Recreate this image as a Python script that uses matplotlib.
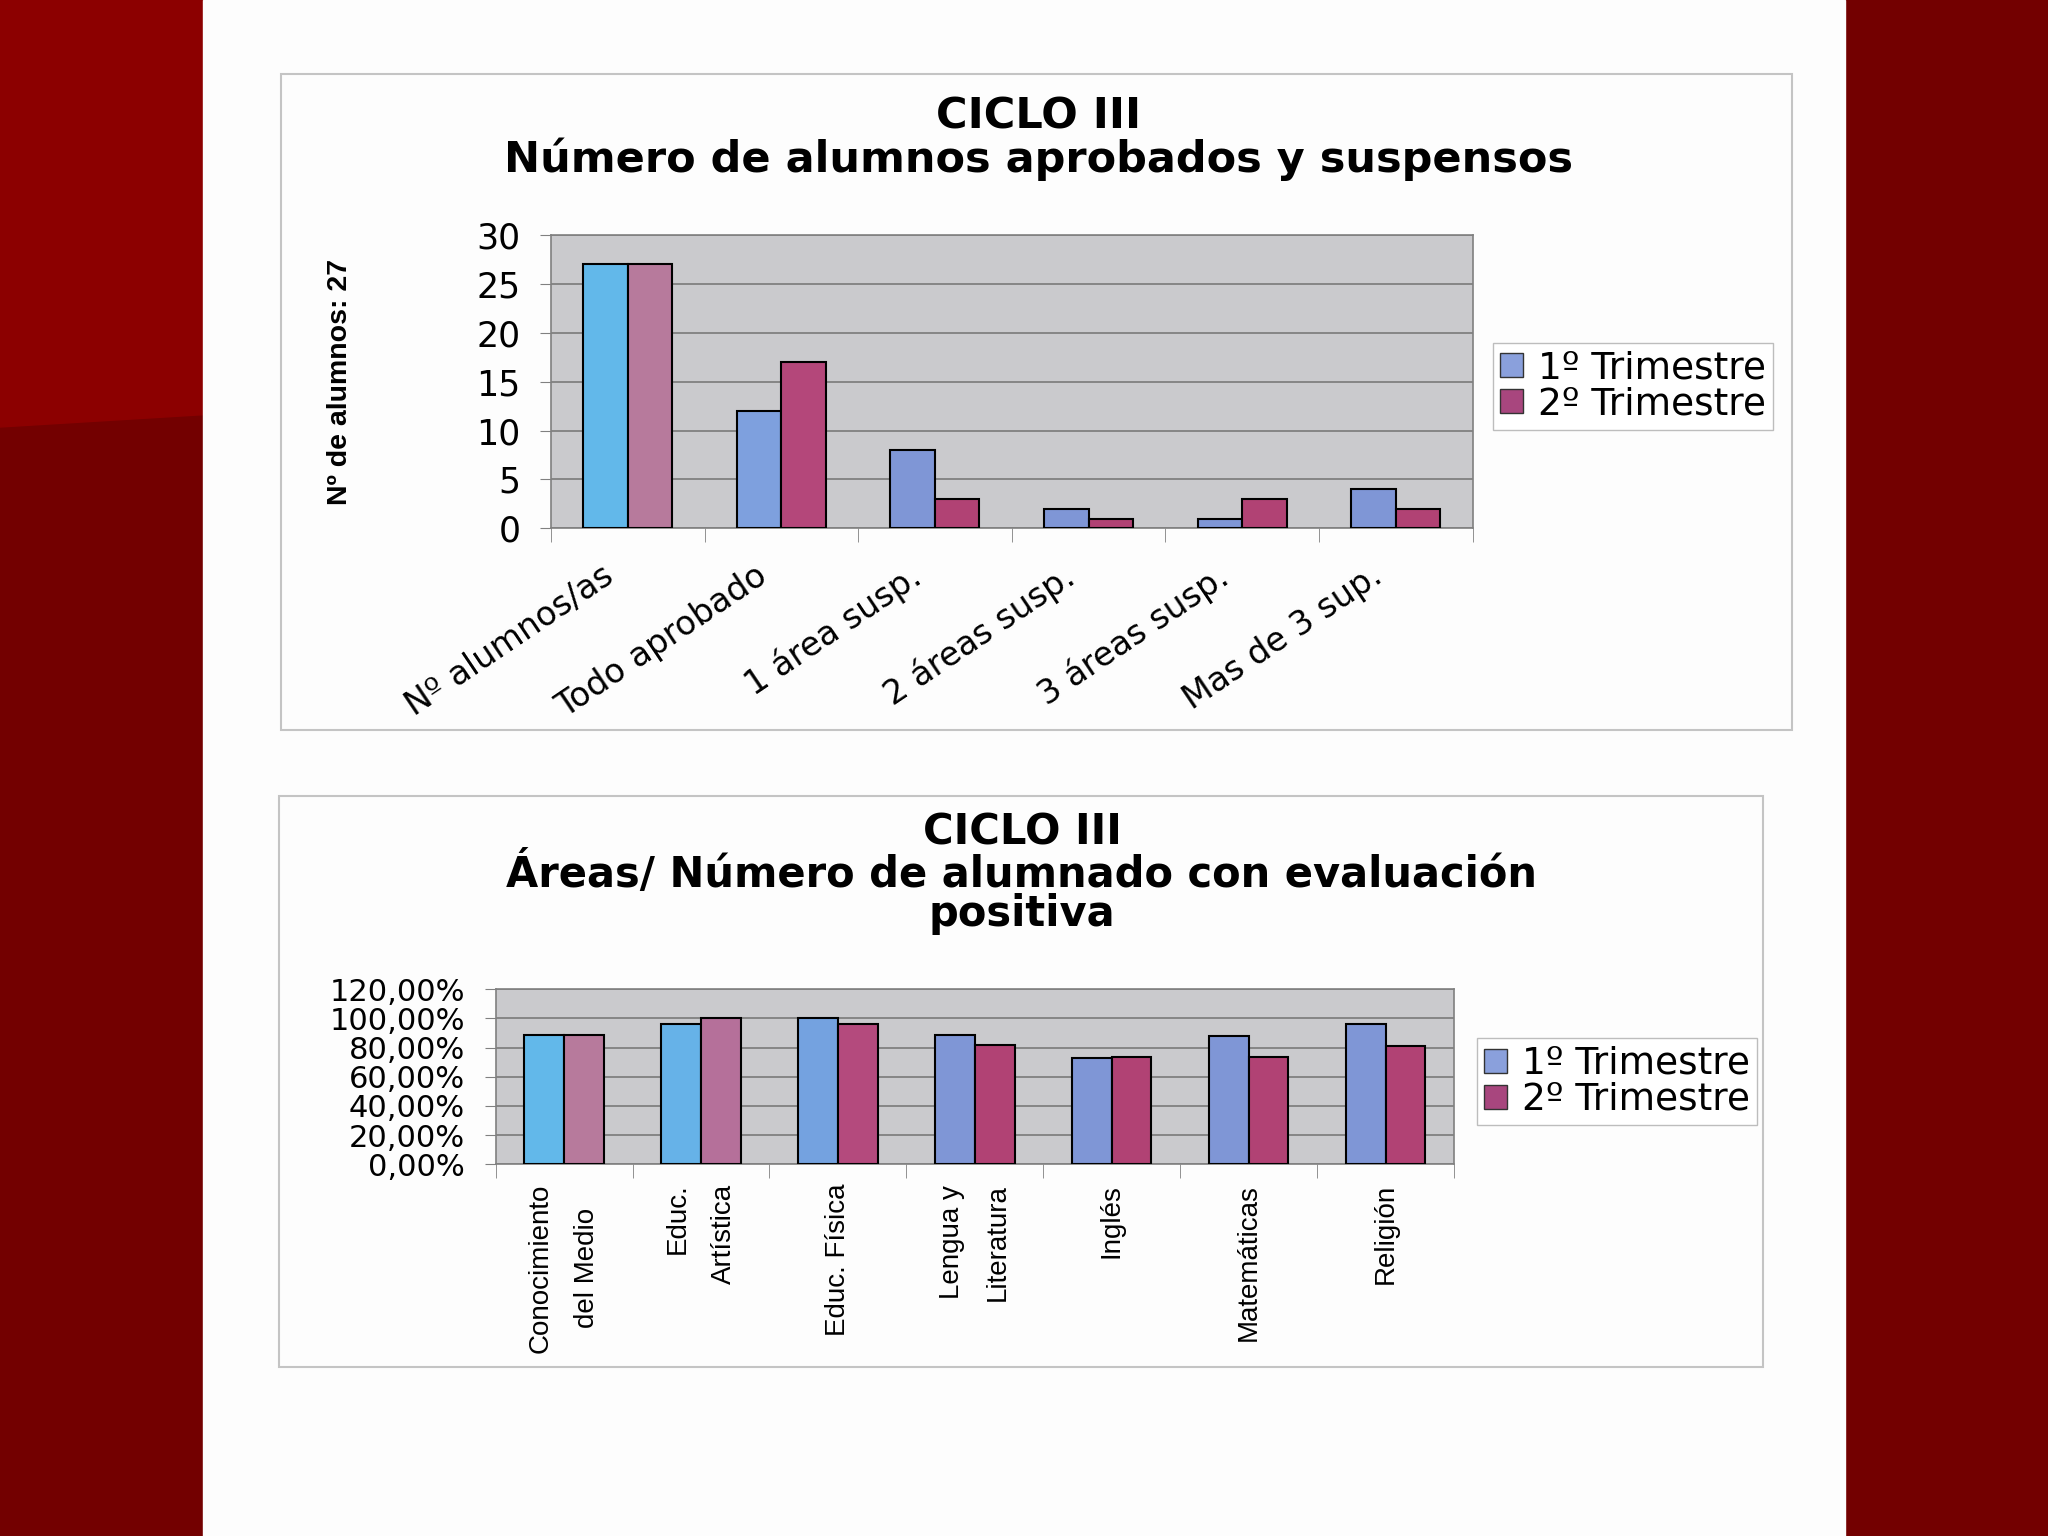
import numpy as np
import matplotlib.pyplot as plt
from matplotlib.patches import Rectangle, Polygon, Patch

# --- datos grafico 1 ---
categorias = ['Nº alumnos/as', 'Todo aprobado', '1 área susp.',
              '2 áreas susp.', '3 áreas susp.', 'Mas de 3 sup.']
trim1 = [27, 12, 8, 2, 1, 4]
trim2 = [27, 17, 3, 1, 3, 2]
yticks1 = [0, 5, 10, 15, 20, 25, 30]

# --- datos grafico 2 ---
areas = ['Conocimiento\ndel Medio', 'Educ.\nArtística', 'Educ. Física',
         'Lengua y\nLiteratura', 'Inglés', 'Matemáticas', 'Religión']
pos1 = [0.889, 0.963, 1.0, 0.885, 0.725, 0.882, 0.958]
pos2 = [0.889, 1.0, 0.963, 0.815, 0.735, 0.735, 0.81]
yticks2 = [0, 0.2, 0.4, 0.6, 0.8, 1.0, 1.2]
ylabels2 = ['0,00%', '20,00%', '40,00%', '60,00%', '80,00%', '100,00%', '120,00%']
series = ['1º Trimestre', '2º Trimestre']

# colores (escaneado: primeras barras mas claras)
col1_a = ['#62b8ea', '#7ea0de', '#7f96d6', '#7f96d6', '#7f96d6', '#7f96d6']
col2_a = ['#b77a9c', '#b4477a', '#b14274', '#b14274', '#b14274', '#b14274']
col1_b = ['#62b8ea', '#66b2e8', '#74a2e0', '#7f96d6', '#7f96d6', '#7f96d6', '#7f96d6']
col2_b = ['#b77a9c', '#b5709a', '#b44a7d', '#b14274', '#b14274', '#b14274', '#b14274']
leg_cols = ['#8aa0dc', '#a8467e']

wide = 'DejaVu Sans'
arial = 'Liberation Sans'
w = 0.29

fig = plt.figure(figsize=(20.48, 15.36), dpi=100)
fig.patch.set_facecolor('#730000')
fig.patches.append(Polygon([(0, 1), (0.0989, 1), (0.0989, 0.730), (0, 0.722)],
                           closed=True, color='#8c0000', zorder=-10,
                           transform=fig.transFigure))
fig.patches.append(Rectangle((0.0989, 0), 0.8022, 1, color='#fdfdfd', zorder=-10,
                             transform=fig.transFigure))
for box in [(0.137, 0.525, 0.738, 0.427), (0.136, 0.110, 0.725, 0.372)]:
    fig.patches.append(Rectangle(box[:2], box[2], box[3], fill=False, zorder=-9,
                                 edgecolor='#c4c4c4', lw=1.5, transform=fig.transFigure))


def base_axes(ax, n):
    ax.set_facecolor('#cacacd')
    ax.set_axisbelow(True)
    ax.yaxis.grid(True, color='#7a7a7a', lw=1.2)
    for s in ax.spines.values():
        s.set_color('#808080')
        s.set_linewidth(1.2)
    ax.set_xlim(-0.5, n - 0.5)
    ax.set_xticks(np.arange(-0.5, n), minor=True)
    ax.tick_params(axis='x', which='minor', length=10, color='#808080')
    ax.tick_params(axis='y', length=8, color='#808080', pad=14)


def add_legend(ax, anchor):
    ax.legend(handles=[Patch(facecolor=c, edgecolor='#333333', label=s)
                       for c, s in zip(leg_cols, series)],
              loc='upper left', bbox_to_anchor=anchor,
              bbox_transform=fig.transFigure, prop={'family': wide, 'size': 27},
              fancybox=False, edgecolor='#bdbdbd', framealpha=1,
              handlelength=0.6, handleheight=0.6, handletextpad=0.4,
              labelspacing=0.0, borderpad=0.2, borderaxespad=0)


# ---------------- grafico 1 ----------------
ax1 = fig.add_axes([0.269, 0.656, 0.45, 0.191])
x = np.arange(len(categorias))
ax1.bar(x - w / 2, trim1, w, color=col1_a, edgecolor='black', lw=1.5, zorder=3)
ax1.bar(x + w / 2, trim2, w, color=col2_a, edgecolor='black', lw=1.5, zorder=3)
base_axes(ax1, len(categorias))
ax1.set_ylim(0, 30)
ax1.set_yticks(yticks1)
ax1.set_yticklabels([str(v) for v in yticks1], family=wide, fontsize=25)
ax1.set_xticks([])
for xi, cat in zip(x, categorias):
    ax1.annotate(cat, xy=(xi, 0), xycoords=('data', 'axes fraction'),
                 xytext=(-19, -22), textcoords='offset points',
                 family=wide, fontsize=24, rotation=34,
                 ha='right', va='top', rotation_mode='anchor')
ax1.set_ylabel('Nº de alumnos: 27', family=arial, fontweight='bold', fontsize=20.5)
ax1.yaxis.set_label_coords(-0.215, 0.5)
add_legend(ax1, (0.729, 0.777))
fig.text(0.507, 0.924, 'CICLO III', ha='center', va='center',
         family=wide, fontweight='bold', fontsize=31)
fig.text(0.507, 0.896, 'Número de alumnos aprobados y suspensos', ha='center',
         va='center', family=wide, fontweight='bold', fontsize=31)

# ---------------- grafico 2 ----------------
ax2 = fig.add_axes([0.242, 0.242, 0.468, 0.114])
x2 = np.arange(len(areas))
ax2.bar(x2 - w / 2, pos1, w, color=col1_b, edgecolor='black', lw=1.5, zorder=3)
ax2.bar(x2 + w / 2, pos2, w, color=col2_b, edgecolor='black', lw=1.5, zorder=3)
base_axes(ax2, len(areas))
ax2.set_ylim(0, 1.2)
ax2.set_yticks(yticks2)
ax2.set_yticklabels(ylabels2, family=wide, fontsize=22)
ax2.set_xticks(x2)
ax2.set_xticklabels(areas, family=arial, fontsize=20, rotation=90,
                    ha='center', va='top', linespacing=2.0)
for lab in ax2.get_xticklabels():
    lab.set_multialignment('right' if lab.get_text().startswith('Educ.\n') else 'center')
ax2.tick_params(axis='x', which='major', length=0, pad=14)
add_legend(ax2, (0.721, 0.324))
fig.text(0.499, 0.458, 'CICLO III', ha='center', va='center',
         family=wide, fontweight='bold', fontsize=30)
fig.text(0.499, 0.431, 'Áreas/ Número de alumnado con evaluación', ha='center',
         va='center', family=wide, fontweight='bold', fontsize=30)
fig.text(0.499, 0.405, 'positiva', ha='center', va='center',
         family=wide, fontweight='bold', fontsize=30)

fig.savefig('out.png', dpi=100, facecolor=fig.get_facecolor())
